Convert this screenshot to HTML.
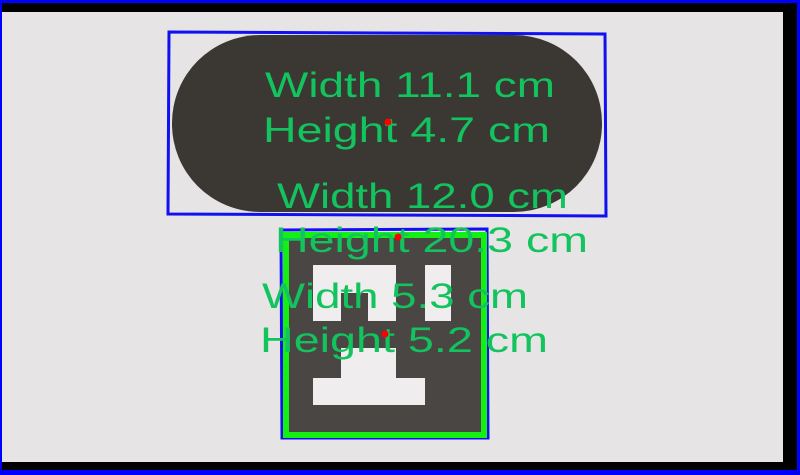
<!DOCTYPE html>
<html><head><meta charset="utf-8"><style>
html,body{margin:0;padding:0;background:#000;}
svg{display:block;}
text{font-family:"Liberation Sans",sans-serif;font-size:35px;fill:#12c35e;}
</style></head><body>
<svg width="800" height="475" viewBox="0 0 800 475">
<rect x="0" y="0" width="800" height="475" fill="#0000ff"/>
<rect x="2" y="3" width="795" height="467" fill="#000"/>
<rect x="2" y="12" width="781" height="450" fill="#e6e4e4"/>
<polygon points="169,32 605,34 606,216 168,214" fill="none" stroke="#1010f0" stroke-width="3"/>
<rect x="172" y="35" width="430" height="177" rx="88" fill="#3b3834"/>
<polygon points="281,230 487,229 488,438 282,438" fill="none" stroke="#1010f0" stroke-width="3"/>
<rect x="286" y="235" width="198" height="200" fill="#4a4644" stroke="#14f014" stroke-width="6"/>
<rect x="313" y="265" width="83" height="56" fill="#efeded"/>
<rect x="341" y="293" width="27" height="28" fill="#4a4644"/>
<rect x="425" y="265" width="26" height="56" fill="#efeded"/>
<rect x="341" y="348" width="55" height="32" fill="#efeded"/>
<rect x="313" y="378" width="112" height="27" fill="#efeded"/>
<text x="265" y="97" textLength="290" lengthAdjust="spacingAndGlyphs">Width 11.1 cm</text>
<text x="263" y="142" textLength="287" lengthAdjust="spacingAndGlyphs">Height 4.7 cm</text>
<text x="277" y="208" textLength="291" lengthAdjust="spacingAndGlyphs">Width 12.0 cm</text>
<text x="275" y="252" textLength="313" lengthAdjust="spacingAndGlyphs">Height 20.3 cm</text>
<text x="262" y="308" textLength="266" lengthAdjust="spacingAndGlyphs">Width 5.3 cm</text>
<text x="260" y="352" textLength="288" lengthAdjust="spacingAndGlyphs">Height 5.2 cm</text>
<circle cx="388" cy="122" r="3.5" fill="#ff0000"/>
<circle cx="398" cy="237" r="3.5" fill="#ff0000"/>
<circle cx="385" cy="334" r="3.5" fill="#ff0000"/>
</svg>
</body></html>
